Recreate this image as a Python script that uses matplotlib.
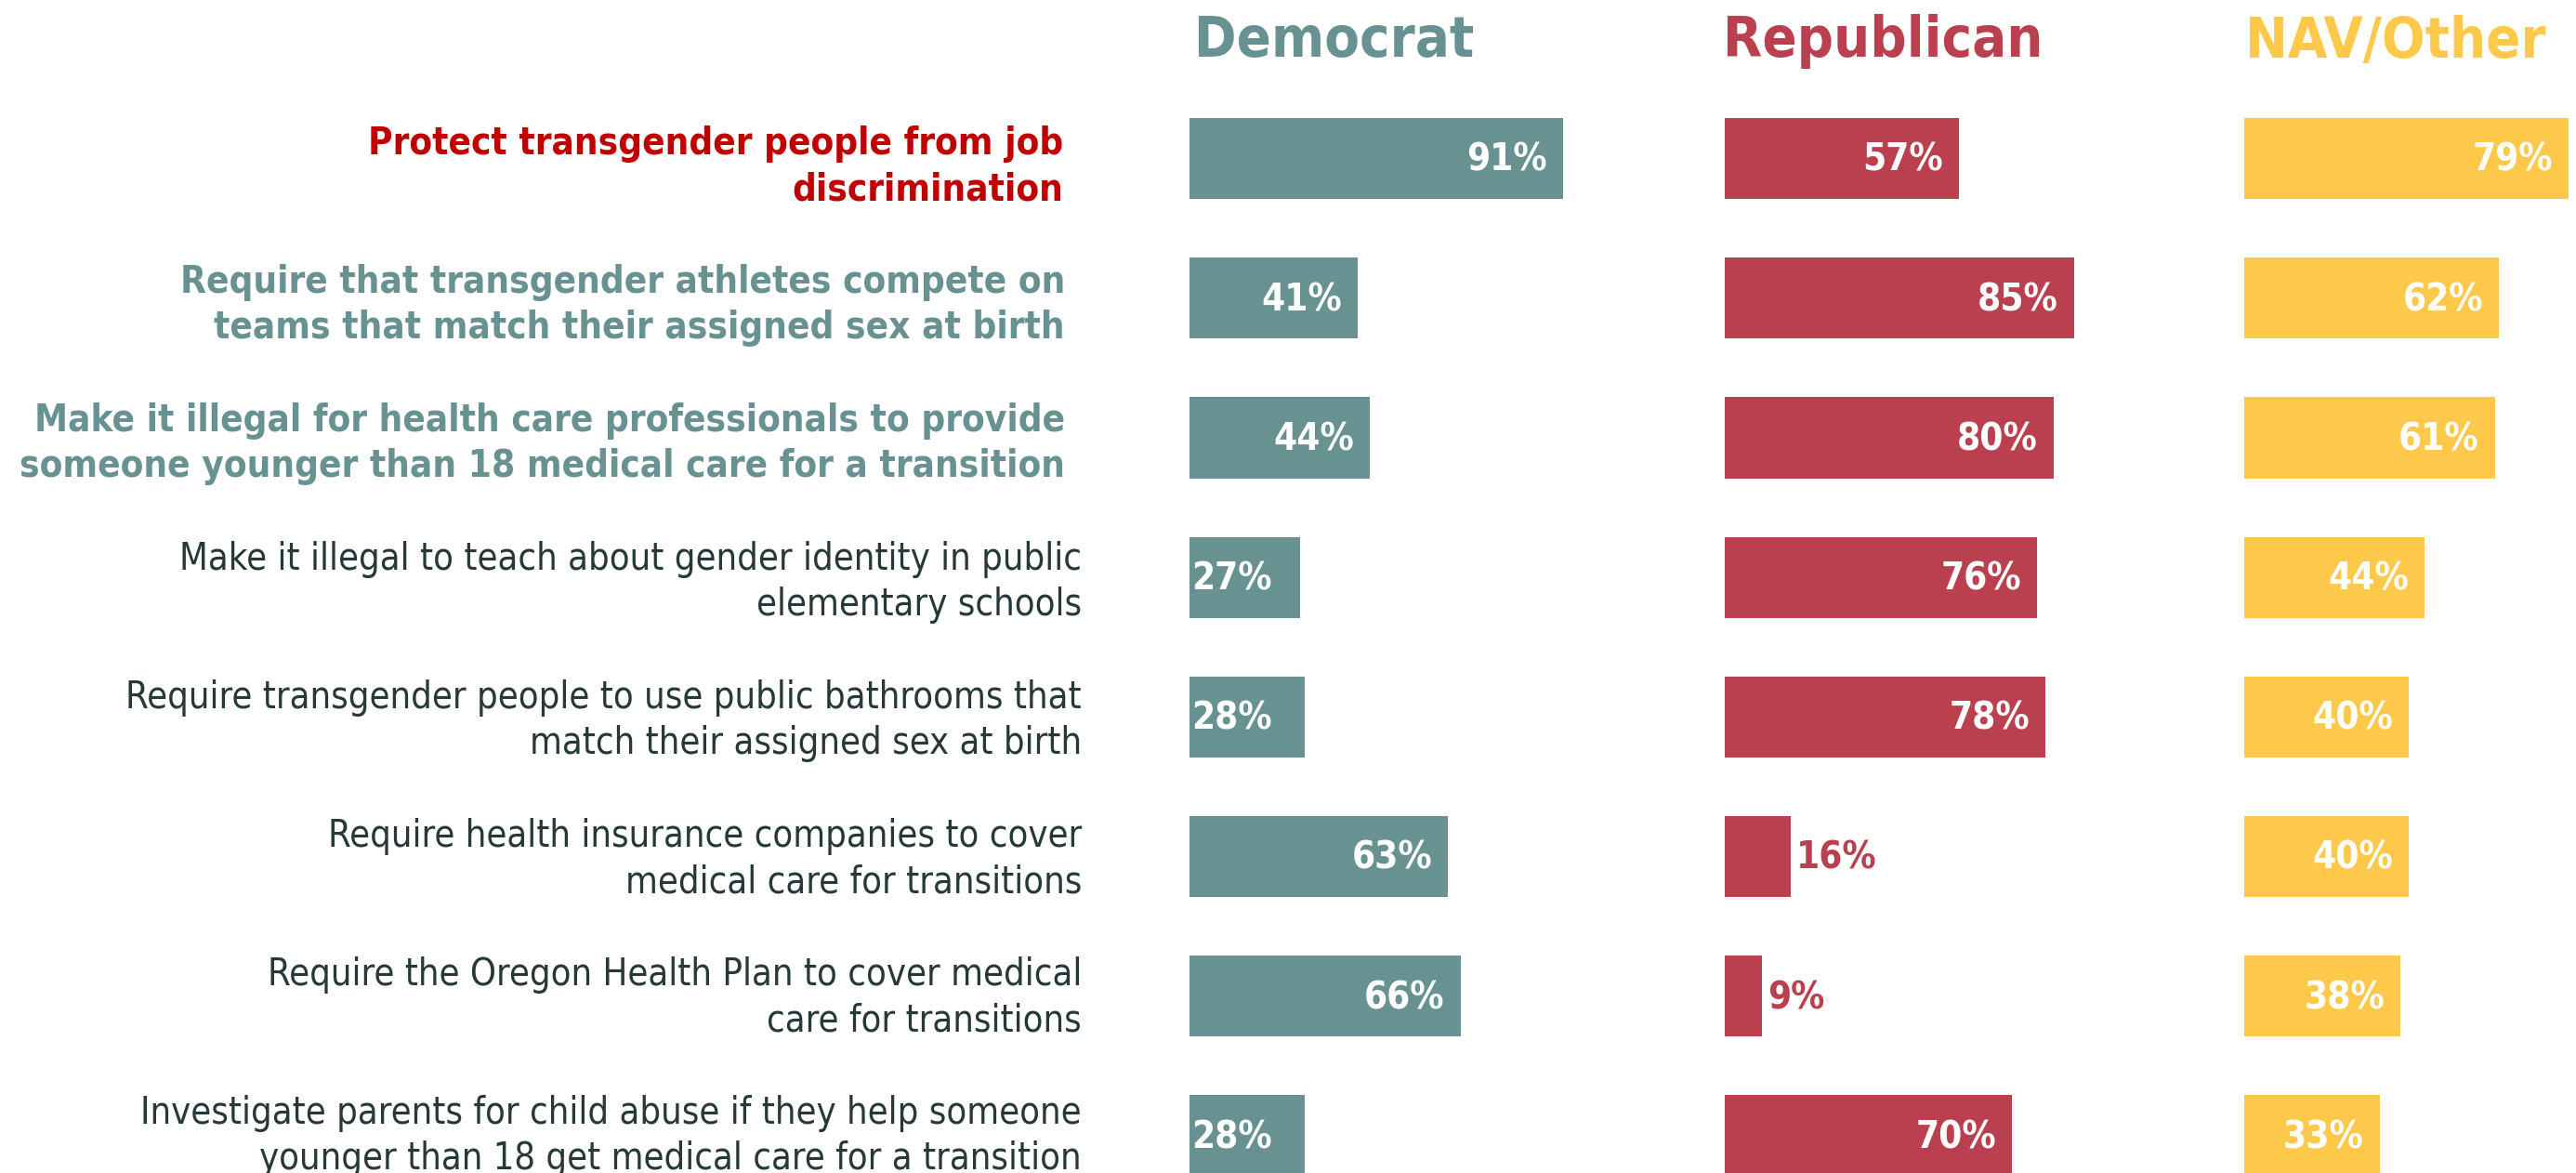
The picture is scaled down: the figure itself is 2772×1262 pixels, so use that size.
import matplotlib.pyplot as plt

# ---- data ----
statements = [
    "Protect transgender people from job\ndiscrimination",
    "Require that transgender athletes compete on\nteams that match their assigned sex at birth",
    "Make it illegal for health care professionals to provide\nsomeone younger than 18 medical care for a transition",
    "Make it illegal to teach about gender identity in public\nelementary schools",
    "Require transgender people to use public bathrooms that\nmatch their assigned sex at birth",
    "Require health insurance companies to cover\nmedical care for transitions",
    "Require the Oregon Health Plan to cover medical\ncare for transitions",
    "Investigate parents for child abuse if they help someone\nyounger than 18 get medical care for a transition",
]
parties = ["Democrat", "Republican", "NAV/Other"]
democrat = [91, 41, 44, 27, 28, 63, 66, 28]
republican = [57, 85, 80, 76, 78, 16, 9, 70]
nav_other = [79, 62, 61, 44, 40, 40, 38, 33]

# ---- style ----
TEAL = "#679291"
RED = "#BA404F"
GOLD = "#FEC94A"
DARK = "#263838"
HILITE = "#C00000"
FONT = "DejaVu Sans"

label_style = ["hilite", "teal", "teal", "plain", "plain", "plain", "plain", "plain"]

W_PX, H_PX = 2772, 1262
fig = plt.figure(figsize=(W_PX / 100, H_PX / 100), dpi=100)
fig.patch.set_facecolor("white")

PX_PER_PCT = 4.42
XMAX = 100
ax_w = XMAX * PX_PER_PCT
row0, row_step = 170.6, 150.2
y_top = -row0 / row_step
y_bot = (H_PX - row0) / row_step

series = [democrat, republican, nav_other]
colors = [TEAL, RED, GOLD]
lefts = [1280, 1856, 2415]
header_x = [1436, 2026, 2578]

axes = []
for vals, col, left, hx, name in zip(series, colors, lefts, header_x, parties):
    ax = fig.add_axes([left / W_PX, 0, ax_w / W_PX, 1])
    ax.set_xlim(0, XMAX)
    ax.set_ylim(y_bot, y_top)
    ax.axis("off")
    ax.barh(range(len(vals)), vals, height=0.58, color=col, edgecolor="none")
    pad = 17 / PX_PER_PCT
    for i, v in enumerate(vals):
        txt = f"{v}%"
        kw = dict(va="center", fontsize=29, fontweight="bold", family=FONT,
                  fontstretch="condensed")
        y = i + 0.015
        if v < 20:
            ax.text(v + 1.4, y, txt, ha="left", color=col, **kw)
        elif v < 30:
            ax.text(0.4, y, txt, ha="left", color="white", **kw)
        else:
            ax.text(v - pad, y, txt, ha="right", color="white", **kw)
    fig.text(hx / W_PX, 1 - 45 / H_PX, name, ha="center", va="center", color=col,
             fontsize=44, fontweight="bold", family=FONT, fontstretch="condensed")
    axes.append(ax)

# statement labels sit on a slightly tighter pitch than the bars
lab0, lab_step = 179.5, 149.0
for i, (s, st) in enumerate(zip(statements, label_style)):
    if st == "hilite":
        color, weight, right, size = HILITE, "bold", 1144, 29
    elif st == "teal":
        color, weight, right, size = TEAL, "bold", 1146, 29
    else:
        color, weight, right, size = DARK, "normal", 1164, 28.6
    fig.text(right / W_PX, 1 - (lab0 + lab_step * i) / H_PX, s, ha="right", va="center",
             multialignment="right", color=color, fontsize=size, fontweight=weight,
             family=FONT, fontstretch="condensed", linespacing=1.3)

fig.savefig("out.png", dpi=100, facecolor="white")
plt.close(fig)
